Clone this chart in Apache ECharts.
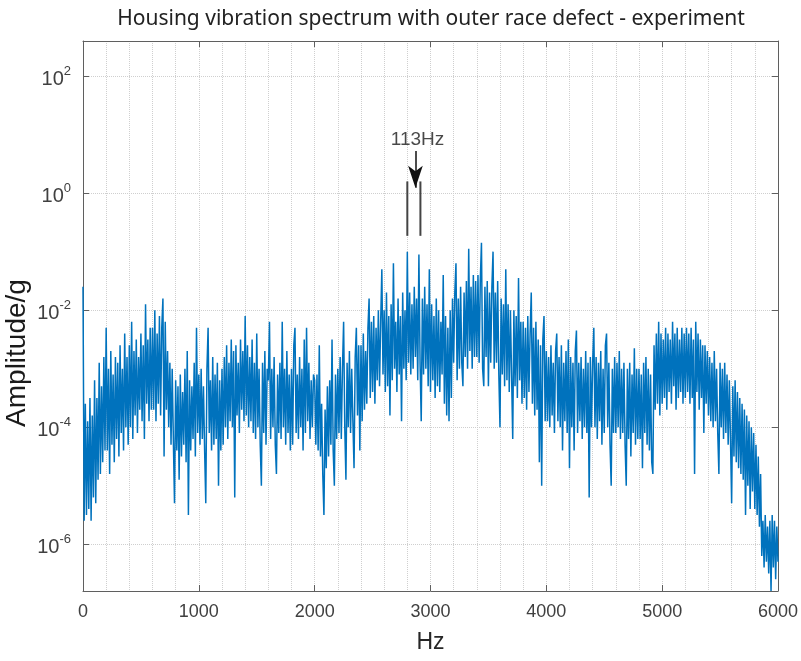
<!DOCTYPE html>
<html>
<head>
<meta charset="utf-8">
<script src="https://cdn.jsdelivr.net/npm/echarts@6/dist/echarts.min.js"></script>
<style>
html,body{margin:0;padding:0;background:#fff;}
#chart{width:801px;height:661px;}
</style>
</head>
<body>
<div id="chart"></div>
<script>
// Spectrum: frequency grid (Hz) and amplitude as log10(g)
const startHz = 0;
const stepHz = 10;
const log10Amplitude = [
-1.6,-5.6,-3.6,-5.5,-3.9,-5.4,-3.5,-5.6,-3.8,-5.2,-3.2,-5.3,-3.5,-4.9,-2.9,-4.8,-3.3,-4.6,-2.8,-4.4,
-2.3,-4.4,-3.0,-4.8,-2.7,-4.3,-3.1,-4.6,-2.8,-4.2,-2.9,-4.5,-2.6,-4.1,-3.0,-4.4,-2.4,-4.0,-2.8,-4.3,
-2.6,-4.0,-2.2,-4.2,-2.7,-3.8,-2.5,-4.1,-2.8,-3.7,-2.4,-3.9,-2.6,-4.2,-1.9,-3.6,-2.5,-3.9,-2.3,-3.7,
-2.3,-3.7,-2.0,-3.9,-2.4,-3.6,-2.1,-3.8,-2.3,-1.8,-4.5,-2.2,-3.7,-2.7,-4.0,-2.9,-4.3,-3.0,-4.2,-5.3,
-3.2,-4.4,-3.3,-4.9,-3.1,-4.5,-3.4,-4.3,-3.0,-4.6,-2.7,-5.5,-3.2,-4.4,-3.3,-4.2,-2.9,-4.5,-2.3,-4.1,
-3.1,-4.3,-3.0,-4.2,-3.3,-4.4,-5.3,-3.0,-2.3,-4.1,-3.2,-4.4,-2.8,-4.3,-3.1,-4.2,-2.9,-5.0,-3.2,-4.4,
-3.0,-4.3,-2.8,-4.0,-2.6,-4.2,-2.9,-3.9,-2.5,-4.0,-2.7,-5.2,-2.6,-3.8,-2.9,-4.1,-2.5,-3.7,-2.7,-3.9,
-2.1,-3.8,-2.6,-4.0,-2.8,-3.9,-2.5,-4.1,-2.9,-4.2,-2.4,-4.0,-3.0,-4.3,-5.0,-2.9,-4.1,-2.7,-4.3,-3.0,
-3.2,-2.2,-4.2,-3.0,-4.0,-2.8,-4.3,-4.8,-3.1,-4.1,-2.9,-4.2,-2.2,-4.0,-3.0,-4.3,-2.7,-4.1,-3.1,-4.4,
-3.0,-4.3,-2.6,-2.3,-4.1,-3.1,-4.2,-2.8,-4.0,-3.0,-4.4,-2.5,-4.1,-2.3,-3.9,-2.9,-4.2,-3.2,-4.0,-3.1,
-3.2,-4.3,-3.1,-4.4,-2.6,-4.5,-3.6,-4.8,-5.5,-3.7,-4.7,-3.3,-4.5,-3.2,-4.3,-2.5,-4.4,-5.0,-3.1,-4.2,
-3.0,-4.1,-2.8,-4.2,-3.0,-2.2,-4.0,-4.9,-2.9,-4.0,-2.7,-4.1,-3.0,-3.9,-4.7,-2.8,-2.3,-3.8,-2.6,-4.4,
-2.6,-3.9,-2.4,-3.7,-2.7,-3.6,-2.3,-1.8,-3.5,-2.2,-3.4,-2.1,-3.6,-2.3,-3.2,-2.0,-3.3,-2.2,-1.3,-3.1,
-2.0,-3.4,-1.7,-3.3,-2.1,-3.8,-1.9,-3.2,-1.2,-3.0,-2.2,-3.4,-1.8,-3.1,-2.1,-3.9,-1.7,-3.0,-2.0,-3.2,
-1.0,-2.9,-1.7,-3.1,-1.9,-3.0,-1.6,-2.8,-1.8,-3.2,-1.05,-2.9,-3.9,-1.8,-3.1,-1.6,-3.0,-1.9,-3.3,-1.3,
-3.4,-1.9,-3.2,-2.1,-3.5,-1.8,-3.3,-2.0,-3.4,-2.2,-3.1,-1.4,-3.6,-2.1,-3.8,-2.3,-3.9,-2.0,-3.5,-1.8,
-2.9,-1.7,-1.2,-3.2,-1.8,-3.0,-1.6,-2.9,-3.3,-1.7,-2.8,-1.5,-3.0,-0.95,-2.7,-1.6,-3.0,-1.4,-2.8,-1.5,
-2.8,-1.4,-2.9,-1.5,-0.85,-3.0,-3.3,-1.6,-2.8,-1.5,-3.3,-1.7,-2.9,-1.6,-1.0,-3.0,-1.7,-2.9,-1.5,-3.1,
-4.0,-1.8,-3.1,-1.9,-3.3,-1.3,-3.2,-1.9,-3.4,-2.0,-3.1,-4.2,-2.0,-3.3,-2.1,-3.5,-1.45,-3.2,-2.2,-3.6,
-2.2,-3.5,-2.3,-3.7,-2.1,-3.4,-2.4,-1.7,-3.6,-2.3,-3.8,-2.2,-3.7,-2.5,-4.6,-2.6,-5.0,-2.5,-2.1,-3.9,
-2.7,-3.9,-2.8,-4.0,-2.6,-3.8,-2.9,-4.1,-2.7,-2.4,-3.9,-2.8,-4.0,-2.6,-4.4,-2.9,-3.9,-2.7,-4.1,-2.5,
-4.7,-2.8,-4.0,-2.9,-4.4,-2.7,-2.35,-4.1,-2.9,-3.9,-2.8,-4.2,-3.0,-4.0,-2.7,-4.1,-2.9,-5.2,-2.8,-4.0,
-2.9,-2.3,-4.0,-2.8,-4.2,-2.9,-3.9,-2.7,-4.3,-3.0,-4.1,-2.6,-2.4,-4.0,-2.9,-4.3,-5.0,-3.0,-4.1,-2.8,
-4.1,-2.9,-4.0,-2.7,-4.2,-3.0,-4.1,-2.9,-4.3,-5.0,-3.0,-4.2,-2.9,-4.5,-3.1,-4.1,-2.65,-4.3,-3.0,-4.2,
-3.0,-4.2,-3.1,-4.7,-2.9,-4.1,-2.8,-4.3,-3.0,-4.4,-3.1,-4.6,-4.8,-2.6,-3.7,-2.4,-3.6,-2.2,-3.8,-2.4,
-3.6,-2.5,-3.5,-2.3,-3.7,-2.4,-3.4,-2.5,-3.6,-2.2,-3.3,-2.4,-3.7,-2.3,-3.5,-2.5,-3.4,-2.3,-3.6,-2.4,
-3.5,-2.3,-3.4,-2.4,-3.6,-2.3,-3.5,-2.5,-4.8,-2.2,-3.4,-2.4,-3.7,-2.5,-3.5,-2.6,-4.1,-2.6,-3.6,-2.7,
-3.8,-2.8,-3.9,-2.9,-4.0,-2.7,-3.9,-3.0,-4.1,-4.8,-2.9,-4.0,-3.0,-4.2,-2.9,-4.1,-3.1,-4.3,-3.2,-4.2,
-5.3,-3.3,-4.5,-3.2,-4.6,-3.4,-4.7,-3.5,-4.8,-3.6,-4.9,-3.7,-5.5,-3.8,-5.0,-3.9,-5.4,-4.0,-5.1,-4.1,
-5.4,-4.3,-5.5,-4.5,-5.7,-4.8,-6.2,-5.6,-6.4,-5.5,-6.3,-5.7,-6.5,-5.6,-6.8,-5.5,-6.4,-5.6,-6.6,-5.7,
-6.3
];

// Axis ticks
const xTicksHz = [0, 1000, 2000, 3000, 4000, 5000, 6000];
const yTickExponents = [-6, -4, -2, 0, 2];
const yRangeExp = [-6.8, 2.6];

// Annotation (113 Hz spacing between two marked peaks)
const markerLinesHz = [2800, 2913];
const markerLineExp = [-0.73, 0.2];
const arrowHz = 2870;
const arrowExp = [0.72, 0.09];
const annotationLabel = '113Hz';
const annotationLabelPos = [2888, 0.92];

const spectrum = log10Amplitude.map((v, i) => [startHz + i * stepHz, v]);

const chart = echarts.init(document.getElementById('chart'), null, {renderer: 'canvas'});

const axisColor = '#5f5f5f';
const gridColor = '#cfcfcf';
const labelFont = 'Liberation Sans, Arial, sans-serif';

const markerSeries = markerLinesHz.map(hz => ({
  type: 'line',
  data: [[hz, markerLineExp[0]], [hz, markerLineExp[1]]],
  showSymbol: false,
  lineStyle: {color: '#444', width: 2},
  z: 5,
  silent: true,
  animation: false
}));

chart.setOption({
  backgroundColor: '#fff',
  animation: false,
  title: {
    text: 'Housing vibration spectrum with outer race defect - experiment',
    left: 426,
    top: 4,
    textAlign: 'center',
    textStyle: {fontFamily: 'Noto Sans', fontSize: 21, fontWeight: 'normal', color: '#222'}
  },
  graphic: [{
    type: 'text',
    x: 17, y: 353,
    rotation: Math.PI / 2,
    silent: true,
    style: {
      text: 'Amplitude/g',
      fontFamily: labelFont, fontSize: 28, fill: '#1a1a1a',
      align: 'center', verticalAlign: 'middle'
    }
  }],
  grid: {left: 83, right: 22, top: 41, bottom: 70, containLabel: false},
  xAxis: [{
    type: 'value', min: 0, max: 6000, interval: 1000, position: 'bottom',
    name: 'Hz', nameLocation: 'middle', nameGap: 40,
    nameTextStyle: {fontFamily: labelFont, fontSize: 23, color: '#262626'},
    axisLine: {show: true, onZero: false, lineStyle: {color: axisColor, width: 1}},
    axisTick: {show: true, inside: true, length: 6, lineStyle: {color: axisColor}},
    axisLabel: {margin: 12, fontFamily: labelFont, fontSize: 18, color: '#404040', formatter: v => String(v)},
    splitLine: {show: true, lineStyle: {type: 'dotted', color: gridColor, width: 1}},
    minorTick: {show: false, splitNumber: 5},
    minorSplitLine: {show: true, lineStyle: {type: 'dotted', color: gridColor, width: 1}}
  }, {
    type: 'value', min: 0, max: 6000, interval: 1000, position: 'top',
    axisLine: {show: true, onZero: false, lineStyle: {color: axisColor, width: 1}},
    axisTick: {show: true, inside: true, length: 6, lineStyle: {color: axisColor}},
    axisLabel: {show: false},
    splitLine: {show: false}
  }],
  yAxis: [{
    type: 'value', min: yRangeExp[0], max: yRangeExp[1], position: 'left',
    axisLine: {show: true, onZero: false, lineStyle: {color: axisColor, width: 1}},
    axisTick: {show: true, inside: true, length: 6, customValues: yTickExponents, lineStyle: {color: axisColor}},
    axisLabel: {
      margin: 12, customValues: yTickExponents,
      formatter: v => '{b|10}{s|' + v + '}',
      rich: {
        b: {fontFamily: labelFont, fontSize: 20, color: '#404040', padding: [6, 0, 0, 0]},
        s: {fontFamily: labelFont, fontSize: 13, color: '#404040', padding: [0, 0, 10, 0]}
      }
    },
    splitLine: {show: true, lineStyle: {type: 'dotted', color: gridColor, width: 1}}
  }, {
    type: 'value', min: yRangeExp[0], max: yRangeExp[1], position: 'right',
    axisLine: {show: true, onZero: false, lineStyle: {color: axisColor, width: 1}},
    axisTick: {show: true, inside: true, length: 6, customValues: yTickExponents, lineStyle: {color: axisColor}},
    axisLabel: {show: false, customValues: yTickExponents},
    splitLine: {show: false}
  }],
  series: [{
    type: 'line',
    data: spectrum,
    showSymbol: false,
    sampling: false,
    lineStyle: {color: '#0072BD', width: 1.5},
    z: 3,
    silent: true,
    animation: false
  }].concat(markerSeries).concat([{
    type: 'line',
    data: [],
    silent: true,
    markLine: {
      silent: true,
      symbol: ['none', 'arrow'],
      symbolSize: [11, 22],
      label: {show: false},
      lineStyle: {color: '#111', width: 1.5, type: 'solid'},
      data: [[{coord: [arrowHz, arrowExp[0]]}, {coord: [arrowHz, arrowExp[1]]}]],
      animation: false
    }
  }, {
    type: 'scatter',
    data: [annotationLabelPos],
    symbolSize: 0,
    silent: true,
    label: {
      show: true, position: 'inside', formatter: annotationLabel,
      fontFamily: labelFont, fontSize: 19, color: '#1a1a1a'
    },
    z: 6
  }])
});
</script>
</body>
</html>
